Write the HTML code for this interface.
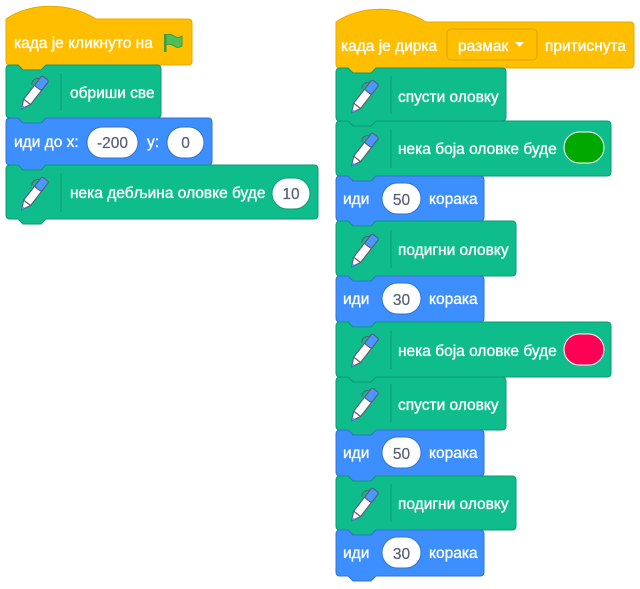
<!DOCTYPE html>
<html><head><meta charset="utf-8"><style>
html,body{margin:0;padding:0;background:#fff;}
svg{display:block}
text{font-family:"Liberation Sans",sans-serif;font-size:15.5px;fill:#fff;stroke:#fff;stroke-width:0.35}
text.d{fill:#575e75;stroke:#575e75;stroke-width:0.2}
</style></head><body>
<svg width="640" height="589" viewBox="0 0 640 589" xmlns="http://www.w3.org/2000/svg">
<defs>
<g id="pen">
 <g transform="scale(1.25) rotate(-52)">
  <rect x="-9" y="-3.5" width="17" height="7" fill="#fff" stroke="#575e75" stroke-width="0.9"/>
  <rect x="5" y="-3.5" width="10" height="7" rx="1.5" fill="#4c97ff" stroke="#575e75" stroke-width="0.9"/>
  <polygon points="-9,-3.5 -16,0 -9,3.5" fill="#fff" stroke="#575e75" stroke-width="0.9"/>
  <polygon points="-13.5,-1.3 -16,0 -13.5,1.3" fill="#4c97ff"/>
  <path d="M12,-3.5 q-3,-5 -8,-2" fill="none" stroke="#575e75" stroke-width="0.9"/>
 </g>
</g>
</defs>

<path d="M6,19 C30,2 70,2 96,19 H188 Q192,19 192,23 V61 Q192,65 188,65 H46 l-5,5 h-18 l-5,-5 H10 Q6,65 6,61 Z" fill="#ffbf00" stroke="#e6a800" stroke-width="1"/>
<text x="14" y="48">када је кликнуто на</text>
<g transform="translate(163,33)">
 <rect x="1" y="1" width="2.5" height="18" fill="#45993d"/>
 <path d="M3,2 q4,-2 8,1 q4,3 8,0 v10 q-4,3 -8,0 q-4,-3 -8,-1 Z" fill="#4cbf56" stroke="#45993d" stroke-width="1"/>
</g>
<path d="M6,69 Q6,65 10,65 H18 l5,5 h18 l5,-5 H157 Q161,65 161,69 V114 Q161,118 157,118 H46 l-5,5 h-18 l-5,-5 H10 Q6,118 6,114 Z" fill="#0fbd8c" stroke="#0b9a72" stroke-width="1"/>
<use href="#pen" x="34" y="93"/>
<line x1="61" y1="73" x2="61" y2="111" stroke="#0b9a72" stroke-width="1"/>
<text x="70" y="98">обриши све</text>
<path d="M6,122 Q6,118 10,118 H18 l5,5 h18 l5,-5 H208 Q212,118 212,122 V161 Q212,165 208,165 H46 l-5,5 h-18 l-5,-5 H10 Q6,165 6,161 Z" fill="#3d8eff" stroke="#3373cc" stroke-width="1"/>
<text x="14" y="147">иди до x:</text>
<rect x="87" y="127" width="51" height="31" rx="15.5" fill="#fff" stroke="#3373cc"/>
<text x="112.5" y="148" text-anchor="middle" class="d">-200</text>
<text x="147" y="147">y:</text>
<rect x="167" y="127" width="37" height="31" rx="15.5" fill="#fff" stroke="#3373cc"/>
<text x="185.5" y="148" text-anchor="middle" class="d">0</text>
<path d="M6,169 Q6,165 10,165 H18 l5,5 h18 l5,-5 H314 Q318,165 318,169 V215 Q318,219 314,219 H46 l-5,5 h-18 l-5,-5 H10 Q6,219 6,215 Z" fill="#0fbd8c" stroke="#0b9a72" stroke-width="1"/>
<use href="#pen" x="34" y="194"/>
<line x1="61" y1="173" x2="61" y2="212" stroke="#0b9a72" stroke-width="1"/>
<text x="70" y="198">нека дебљина оловке буде</text>
<rect x="272" y="178" width="38" height="31" rx="15.5" fill="#fff" stroke="#0b9a72"/>
<text x="291" y="199" text-anchor="middle" class="d">10</text>

<path d="M336,22 C360,5 400,5 426,22 H630 Q634,22 634,26 V64 Q634,68 630,68 H376 l-5,5 h-18 l-5,-5 H340 Q336,68 336,64 Z" fill="#ffbf00" stroke="#e6a800" stroke-width="1"/>
<text x="341" y="51">када је дирка</text>
<rect x="447" y="29" width="90" height="31" rx="4" fill="#ffbf00" stroke="#d9a200"/>
<text x="458" y="51">размак</text>
<polygon points="515,42 524,42 519.5,47" fill="#fff"/>
<text x="545" y="51">притиснута</text>

<path d="M336,72 Q336,68 340,68 H348 l5,5 h18 l5,-5 H502 Q506,68 506,72 V117 Q506,121 502,121 H376 l-5,5 h-18 l-5,-5 H340 Q336,121 336,117 Z" fill="#0fbd8c" stroke="#0b9a72"/>
<use href="#pen" x="364" y="97"/>
<line x1="391" y1="76" x2="391" y2="114" stroke="#0b9a72"/>
<text x="398" y="102">спусти оловку</text>

<path d="M336,125 Q336,121 340,121 H348 l5,5 h18 l5,-5 H607 Q611,121 611,125 V172 Q611,176 607,176 H376 l-5,5 h-18 l-5,-5 H340 Q336,176 336,172 Z" fill="#0fbd8c" stroke="#0b9a72"/>
<use href="#pen" x="364" y="150"/>
<line x1="391" y1="130" x2="391" y2="168" stroke="#0b9a72"/>
<text x="398" y="154">нека боја оловке буде</text>
<rect x="564" y="132" width="40" height="31" rx="15.5" fill="#00a800" stroke="#fff" stroke-width="1"/>

<path d="M336,180 Q336,176 340,176 H348 l5,5 h18 l5,-5 H480 Q484,176 484,180 V217 Q484,221 480,221 H376 l-5,5 h-18 l-5,-5 H340 Q336,221 336,217 Z" fill="#3d8eff" stroke="#3373cc"/>
<text x="343" y="204">иди</text>
<rect x="382" y="183" width="39" height="31" rx="15.5" fill="#fff" stroke="#3373cc"/>
<text x="401.5" y="205" text-anchor="middle" class="d">50</text>
<text x="429" y="204">корака</text>

<path d="M336,225 Q336,221 340,221 H348 l5,5 h18 l5,-5 H512 Q516,221 516,225 V272 Q516,276 512,276 H376 l-5,5 h-18 l-5,-5 H340 Q336,276 336,272 Z" fill="#0fbd8c" stroke="#0b9a72"/>
<use href="#pen" x="364" y="251"/>
<line x1="391" y1="230" x2="391" y2="268" stroke="#0b9a72"/>
<text x="398" y="255">подигни оловку</text>

<path d="M336,280 Q336,276 340,276 H348 l5,5 h18 l5,-5 H480 Q484,276 484,280 V318 Q484,322 480,322 H376 l-5,5 h-18 l-5,-5 H340 Q336,322 336,318 Z" fill="#3d8eff" stroke="#3373cc"/>
<text x="343" y="304">иди</text>
<rect x="382" y="283" width="39" height="31" rx="15.5" fill="#fff" stroke="#3373cc"/>
<text x="401.5" y="305" text-anchor="middle" class="d">30</text>
<text x="429" y="304">корака</text>

<path d="M336,326 Q336,322 340,322 H348 l5,5 h18 l5,-5 H607 Q611,322 611,326 V373 Q611,377 607,377 H376 l-5,5 h-18 l-5,-5 H340 Q336,377 336,373 Z" fill="#0fbd8c" stroke="#0b9a72"/>
<use href="#pen" x="364" y="351"/>
<line x1="391" y1="331" x2="391" y2="369" stroke="#0b9a72"/>
<text x="398" y="356">нека боја оловке буде</text>
<rect x="564" y="334" width="40" height="31" rx="15.5" fill="#ff0055" stroke="#fff" stroke-width="1"/>

<path d="M336,381 Q336,377 340,377 H348 l5,5 h18 l5,-5 H502 Q506,377 506,381 V426 Q506,430 502,430 H376 l-5,5 h-18 l-5,-5 H340 Q336,430 336,426 Z" fill="#0fbd8c" stroke="#0b9a72"/>
<use href="#pen" x="364" y="405"/>
<line x1="391" y1="384" x2="391" y2="422" stroke="#0b9a72"/>
<text x="398" y="410">спусти оловку</text>

<path d="M336,434 Q336,430 340,430 H348 l5,5 h18 l5,-5 H480 Q484,430 484,434 V472 Q484,476 480,476 H376 l-5,5 h-18 l-5,-5 H340 Q336,476 336,472 Z" fill="#3d8eff" stroke="#3373cc"/>
<text x="343" y="458">иди</text>
<rect x="382" y="437" width="39" height="31" rx="15.5" fill="#fff" stroke="#3373cc"/>
<text x="401.5" y="459" text-anchor="middle" class="d">50</text>
<text x="429" y="458">корака</text>

<path d="M336,480 Q336,476 340,476 H348 l5,5 h18 l5,-5 H512 Q516,476 516,480 V526 Q516,530 512,530 H376 l-5,5 h-18 l-5,-5 H340 Q336,530 336,526 Z" fill="#0fbd8c" stroke="#0b9a72"/>
<use href="#pen" x="364" y="505"/>
<line x1="391" y1="484" x2="391" y2="522" stroke="#0b9a72"/>
<text x="398" y="509">подигни оловку</text>

<path d="M336,534 Q336,530 340,530 H348 l5,5 h18 l5,-5 H480 Q484,530 484,534 V572 Q484,576 480,576 H376 l-5,5 h-18 l-5,-5 H340 Q336,576 336,572 Z" fill="#3d8eff" stroke="#3373cc"/>
<text x="343" y="558">иди</text>
<rect x="382" y="537" width="39" height="31" rx="15.5" fill="#fff" stroke="#3373cc"/>
<text x="401.5" y="559" text-anchor="middle" class="d">30</text>
<text x="429" y="558">корака</text>
</svg>
</body></html>
